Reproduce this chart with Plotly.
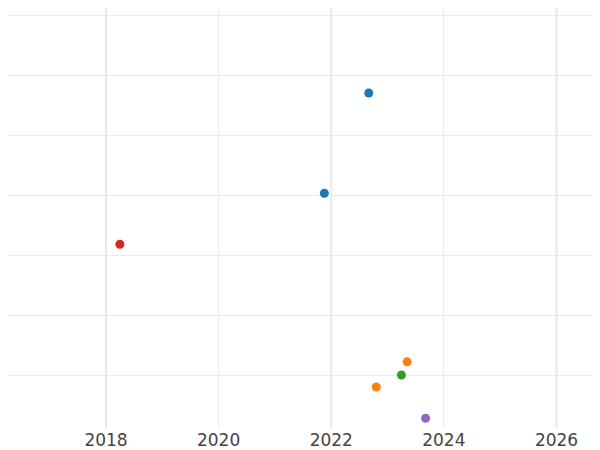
import plotly.graph_objects as go

dates = ["2022-09-01", "2021-11-17", "2018-04-01", "2023-05-08", "2022-10-20", "2023-04-01", "2023-09-05"]
values = [5.7, 4.03, 3.18, 1.22, 0.8, 1.0, 0.28]
colors = ["#1f77b4", "#1f77b4", "#d62728", "#ff7f0e", "#ff7f0e", "#2ca02c", "#9467bd"]

fig = go.Figure(go.Scatter(x=dates, y=values, mode="markers",
                           marker=dict(color=colors, size=9), showlegend=False))
fig.update_layout(template="plotly_white", width=600, height=450,
                  margin=dict(l=0, r=0, t=0, b=30, pad=0, autoexpand=False),
                  font=dict(family="DejaVu Sans", size=17, color="#444"))
fig.update_xaxes(range=["2016-04-05", "2026-12-01"], dtick="M24", tick0="2018-01-01",
                 tickformat="%Y", gridcolor="#ebebeb", showline=False, zeroline=False)
fig.update_yaxes(range=[0.117, 7.117], dtick=1, showticklabels=False,
                 gridcolor="#ebebeb", zeroline=False)
for yr in ["2018-01-01", "2022-01-01", "2026-01-01"]:
    fig.add_vline(x=yr, line=dict(color="#e4e4e4", width=2), layer="below")
fig.write_html("out.html")
